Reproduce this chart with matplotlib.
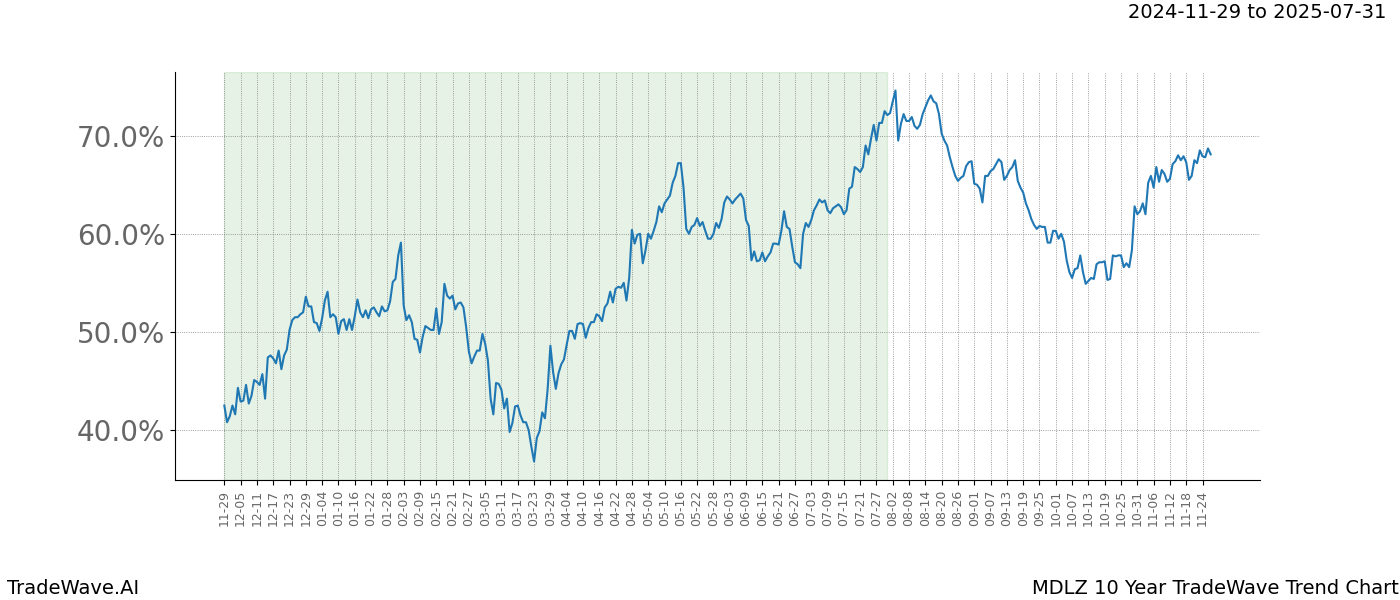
import matplotlib
matplotlib.use("Agg")
import matplotlib.pyplot as plt
import matplotlib.dates as mdates
from matplotlib.ticker import FuncFormatter
import pandas as pd

START = "2024-11-29"
SHADE_END = "2025-07-31"
LAST_TICK = "2025-11-24"

# one reading per calendar day, starting at START (percent)
trend_pct = [
    42.5, 40.8, 41.4, 42.5, 41.6, 44.3, 42.9, 43.0, 44.6, 42.7,
    43.5, 45.1, 44.9, 44.6, 45.7, 43.2, 47.4, 47.6, 47.3, 46.8,
    48.1, 46.2, 47.6, 48.2, 50.2, 51.2, 51.5, 51.5, 51.8, 52.0,
    53.6, 52.6, 52.6, 51.0, 50.9, 50.1, 51.4, 53.2, 54.1, 51.5,
    51.8, 51.5, 49.8, 51.1, 51.3, 50.2, 51.3, 50.2, 51.6, 53.3,
    52.0, 51.5, 52.2, 51.4, 52.3, 52.5, 52.0, 51.6, 52.6, 52.1,
    52.2, 53.1, 55.1, 55.4, 57.8, 59.1, 52.7, 51.2, 51.7, 51.0,
    49.3, 49.2, 47.9, 49.5, 50.6, 50.4, 50.2, 50.2, 52.4, 49.8,
    51.0, 54.9, 53.7, 53.4, 53.7, 52.3, 52.9, 53.0, 52.5, 50.5,
    48.0, 46.8, 47.5, 48.1, 48.1, 49.8, 48.8, 47.1, 43.2, 41.6,
    44.8, 44.7, 44.1, 42.2, 43.2, 39.8, 40.7, 42.4, 42.5, 41.5,
    40.8, 40.8, 40.0, 38.3, 36.8, 39.2, 39.9, 41.8, 41.2, 44.2,
    48.6, 45.9, 44.2, 45.8, 46.7, 47.2, 48.7, 50.1, 50.1, 49.3,
    50.8, 50.9, 50.8, 49.4, 50.4, 51.0, 51.0, 51.8, 51.6, 51.1,
    52.5, 52.9, 54.1, 53.0, 54.4, 54.6, 54.5, 55.0, 53.2, 55.5,
    60.4, 59.0, 59.9, 60.0, 57.0, 58.3, 60.0, 59.5, 60.3, 61.2,
    62.8, 62.2, 63.1, 63.5, 63.9, 65.2, 65.9, 67.2, 67.2, 64.7,
    60.5, 60.0, 60.7, 60.9, 61.6, 60.8, 61.2, 60.3, 59.5, 59.5,
    60.0, 61.1, 60.6, 61.5, 63.2, 63.8, 63.5, 63.1, 63.5, 63.8,
    64.1, 63.6, 61.4, 60.8, 57.3, 58.2, 57.2, 57.3, 58.1, 57.2,
    57.7, 58.1, 59.0, 59.0, 58.9, 60.3, 62.3, 60.7, 60.5, 58.7,
    57.1, 56.9, 56.5, 60.0, 61.1, 60.7, 61.4, 62.4, 62.9, 63.5,
    63.2, 63.4, 62.4, 62.1, 62.6, 62.8, 63.0, 62.7, 62.0, 62.4,
    64.6, 64.8, 66.8, 66.6, 66.3, 66.8, 69.0, 68.1, 69.7, 71.1,
    69.5, 71.3, 71.3, 72.5, 72.1, 72.3, 73.5, 74.6, 69.5, 71.2,
    72.2, 71.5, 71.5, 71.9, 71.0, 70.7, 71.1, 72.2, 72.9, 73.6,
    74.1, 73.5, 73.3, 72.2, 70.2, 69.5, 69.0, 67.8, 66.8, 65.9,
    65.4, 65.7, 65.9, 66.9, 67.3, 67.4, 65.1, 65.0, 64.6, 63.2,
    65.9, 65.9, 66.4, 66.6, 67.1, 67.6, 67.3, 65.5, 65.9, 66.5,
    66.8, 67.5, 65.4, 64.7, 64.2, 63.1, 62.4, 61.5, 60.9, 60.5,
    60.8, 60.7, 60.7, 59.1, 59.1, 60.3, 60.3, 59.5, 60.0, 59.2,
    57.3, 56.1, 55.5, 56.4, 56.5, 57.8, 56.1, 54.9, 55.2, 55.5,
    55.4, 56.9, 57.1, 57.1, 57.2, 55.3, 55.4, 57.8, 57.7, 57.8,
    57.8, 56.6, 57.0, 56.6, 58.3, 62.8, 62.0, 62.3, 63.1, 62.0,
    65.2, 65.9, 64.7, 66.8, 65.3, 66.5, 66.1, 65.3, 65.6, 67.1,
    67.4, 68.0, 67.5, 67.9, 67.3, 65.5, 65.9, 67.5, 67.2, 68.5,
    67.9, 67.8, 68.7, 68.1,
]

dates = pd.date_range(START, periods=len(trend_pct), freq="D")
tick_dates = pd.date_range(START, LAST_TICK, freq="6D")

fig = plt.figure(figsize=(14, 6), dpi=100)
ax = fig.add_axes([0.125, 0.2, 0.775, 0.68])

ax.axvspan(pd.Timestamp(START), pd.Timestamp(SHADE_END), color="green", alpha=0.1)
ax.plot(dates, trend_pct, color="#1f77b4", linewidth=1.5)

ax.set_xticks(tick_dates)
ax.xaxis.set_major_formatter(mdates.DateFormatter("%m-%d"))
ax.yaxis.set_major_formatter(FuncFormatter(lambda v, _: f"{v:.1f}%"))
ax.set_yticks([40, 50, 60, 70])

ax.tick_params(axis="x", labelrotation=90, labelsize=9, labelcolor="#666666")
ax.tick_params(axis="y", labelsize=20, labelcolor="#666666")

ax.grid(True, color="gray", linestyle=":", linewidth=0.6)
ax.spines["top"].set_visible(False)
ax.spines["right"].set_visible(False)

fig.text(0.99, 0.98, f"{START} to {SHADE_END}", ha="right", va="center", fontsize=14)
fig.text(0.005, 0.02, "TradeWave.AI", ha="left", va="center", fontsize=14)
fig.text(0.999, 0.02, "MDLZ 10 Year TradeWave Trend Chart", ha="right", va="center", fontsize=14)

fig.savefig("out.png", dpi=100)
